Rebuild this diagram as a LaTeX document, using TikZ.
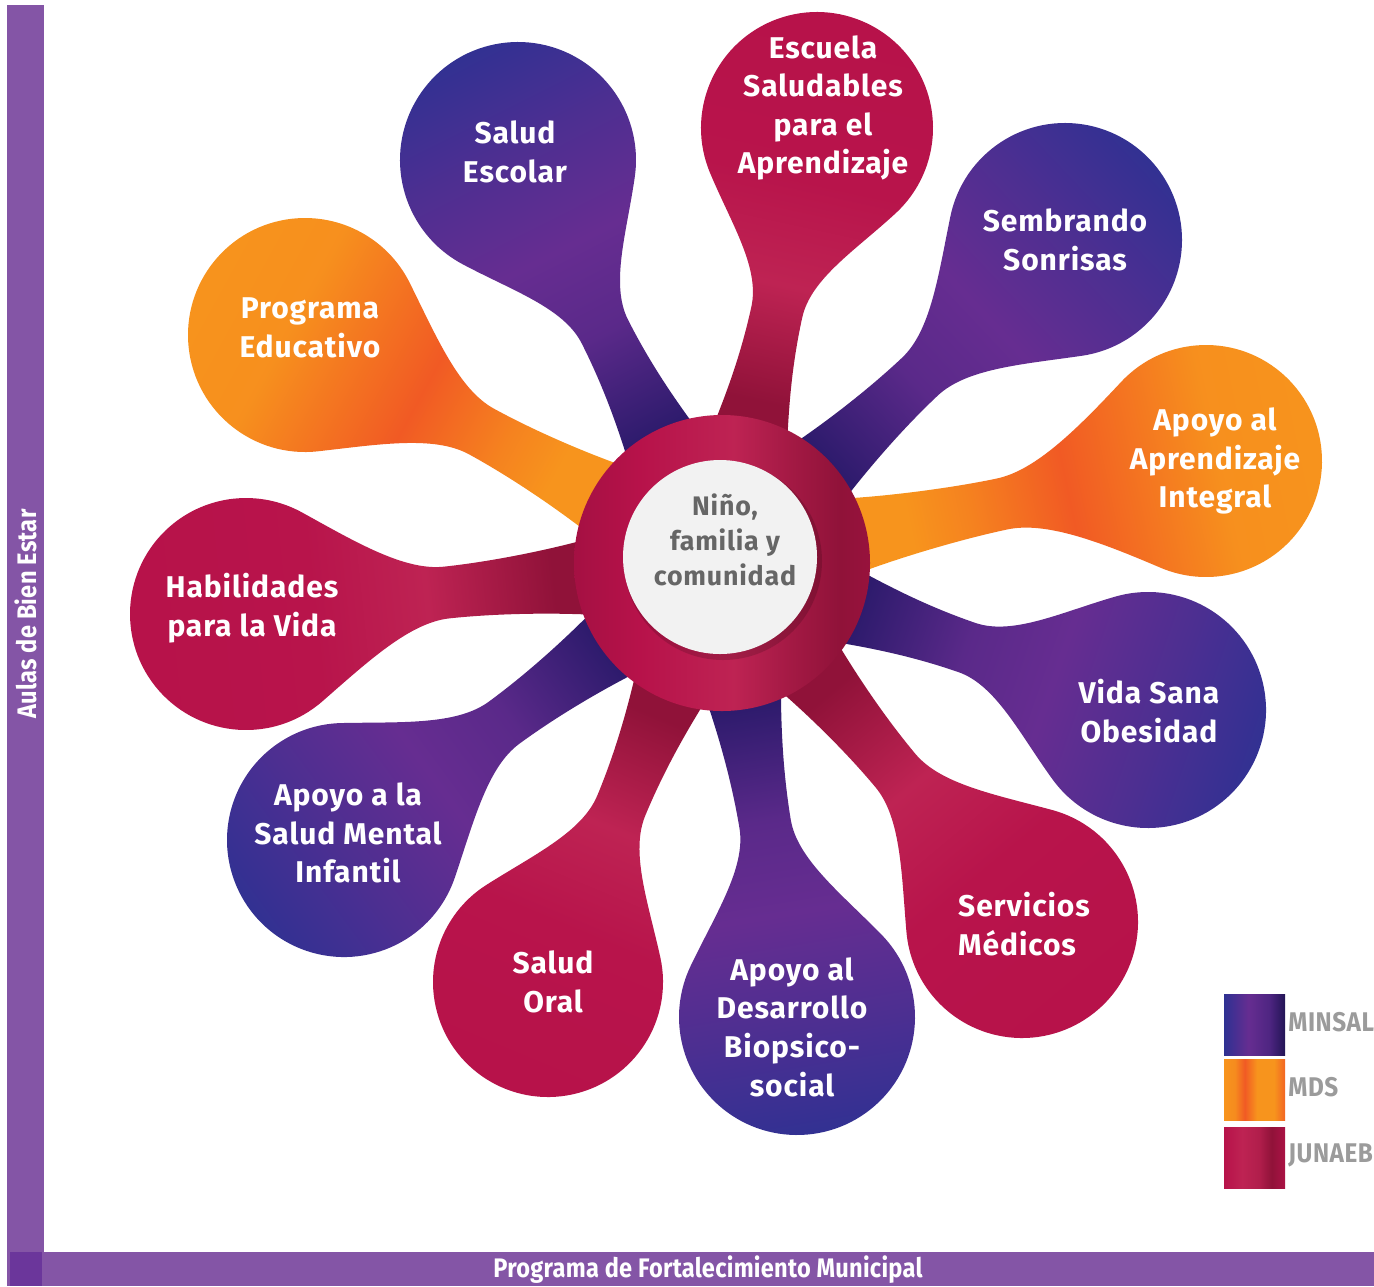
\documentclass[tikz,border=0pt]{standalone}
\usepackage{fontspec}
\setsansfont{Fira Sans}
\newfontfamily\condfont{Fira Sans}[FakeStretch=0.88,LetterSpace=1]
\newfontfamily\petalfont{Fira Sans}[LetterSpace=3]
\newfontfamily\legfont{Fira Sans}[FakeStretch=0.9,LetterSpace=2]
\definecolor{mBlue}{HTML}{2E3192}
\definecolor{mPurple}{HTML}{662D91}
\definecolor{mDark}{HTML}{2B1A6B}
\definecolor{oOrange}{HTML}{F7941D}
\definecolor{oRed}{HTML}{F15A24}
\definecolor{jRed}{HTML}{B7124A}
\definecolor{jLight}{HTML}{BE2353}
\definecolor{jDark}{HTML}{901239}
\definecolor{barPurple}{HTML}{8455A6}
\definecolor{barDark}{HTML}{6B369B}
\definecolor{legendGray}{HTML}{9B9B9B}
\definecolor{centerGray}{HTML}{666666}
\definecolor{centerFill}{HTML}{F2F2F2}
\pgfdeclarehorizontalshading{shMinsal}{100bp}{color(0bp)=(mBlue); color(25bp)=(mBlue); color(38bp)=(mBlue!45!mPurple); color(50bp)=(mPurple); color(60bp)=(mPurple!80!mDark); color(73bp)=(mDark); color(100bp)=(mDark)}
\pgfdeclarehorizontalshading{shMds}{100bp}{color(0bp)=(oOrange); color(25bp)=(oOrange); color(37bp)=(oOrange!92!oRed); color(52bp)=(oRed); color(62bp)=(oOrange!70!oRed); color(68bp)=(oOrange); color(100bp)=(oOrange)}
\pgfdeclarehorizontalshading{shJunaeb}{100bp}{color(0bp)=(jRed); color(25bp)=(jRed); color(45bp)=(jRed!90!jLight); color(57bp)=(jLight); color(70bp)=(jDark); color(100bp)=(jDark)}
\pgfdeclarehorizontalshading{shHub}{100bp}{color(0bp)=(jRed); color(25bp)=(jRed!90!black); color(36bp)=(jRed); color(52bp)=(jLight); color(62bp)=(jDark!60!jLight); color(70bp)=(jDark); color(75bp)=(jDark!80!jRed); color(100bp)=(jDark!80!jRed)}
\pgfdeclarehorizontalshading{shLegM}{100bp}{color(0bp)=(mBlue); color(25bp)=(mBlue); color(45bp)=(mPurple); color(62bp)=(mPurple!60!mDark); color(75bp)=(mDark!80!black); color(100bp)=(mDark!80!black)}
\pgfdeclarehorizontalshading{shLegO}{100bp}{color(0bp)=(oOrange); color(25bp)=(oOrange); color(34bp)=(oOrange!85!oRed); color(42bp)=(oRed); color(52bp)=(oOrange); color(66bp)=(oOrange); color(75bp)=(oRed!80!oOrange); color(100bp)=(oRed!80!oOrange)}
\pgfdeclarehorizontalshading{shLegJ}{100bp}{color(0bp)=(jRed); color(25bp)=(jRed); color(40bp)=(jLight); color(54bp)=(jLight!70!jDark); color(64bp)=(jDark); color(75bp)=(jRed!70!jDark); color(100bp)=(jRed!70!jDark)}
\newcommand\petal[4]{%
  \pgfmathsetmacro\pdx{722-#1}%
  \pgfmathsetmacro\pdy{563-#2}%
  \pgfmathsetmacro\pd{veclen(\pdx,\pdy)}%
  \pgfmathsetmacro\pang{atan2(-\pdy,\pdx)}%
  \pgfmathsetmacro\pr{#3}%
  \pgfmathsetmacro\pxw{\pr+0.4*(\pd-148-\pr)}%
  \pgfmathsetmacro\pxe{\pd-120}%
  \pgfmathsetmacro\ppx{0.5736*\pr}%
  \pgfmathsetmacro\ppy{0.8192*\pr}%
  \pgfmathsetmacro\pk{0.45*(\pxw-\ppx)}%
  \begin{scope}[transform canvas={shift={(#1,#2)},rotate=\pang}]
    \shade[shading=#4] (\pxe,40) .. controls ({\pxe-45},32) and ({\pxw+50},26) .. (\pxw,26)
      .. controls ({\pxw-40},26) and ({\ppx+0.8192*\pk},{\ppy-0.5736*\pk}) .. (\ppx,\ppy)
      arc[start angle=55,end angle=305,radius=\pr]
      .. controls ({\ppx+0.8192*\pk},{-\ppy+0.5736*\pk}) and ({\pxw-40},-26) .. (\pxw,-26)
      .. controls ({\pxw+50},-26) and ({\pxe-45},-32) .. (\pxe,-40) -- cycle;
  \end{scope}}
\tikzset{
  ptext/.style={text=white, font=\petalfont\bfseries\fontsize{15}{19.3}\selectfont, align=center, inner sep=0pt},
  ctext/.style={text=centerGray, font=\petalfont\bfseries\fontsize{13.4}{17.5}\selectfont, align=center, inner sep=0pt},
  bartext/.style={text=white, font=\condfont\bfseries\fontsize{13.4}{13.4}\selectfont, inner sep=0pt},
  legtext/.style={text=legendGray, font=\legfont\bfseries\fontsize{13.5}{13.5}\selectfont, inner sep=0pt, anchor=west}
}
\begin{document}
\begin{tikzpicture}[x=0.5pt,y=-0.5pt]
\useasboundingbox (0,0) rectangle (1374,1286);
\fill[white] (0,0) rectangle (1374,1286);
% frame bars
\fill[barPurple] (7,5) rectangle (44,1252);
\fill[barPurple] (7,1252) rectangle (1374,1286);
\fill[barDark] (10,1252) rectangle (42,1286);
\node[bartext, rotate=90] (aulas) at (26,614) {Aulas de Bien Estar};
\node[bartext] (prog) at (708,1270) {Programa de Fortalecimiento Municipal};
% petals
\petal{518}{160}{118}{shMinsal}
\petal{817}{128}{116}{shJunaeb}
\petal{1065}{240}{117}{shMinsal}
\petal{1206}{461}{116}{shMds}
\petal{1148}{710}{118}{shMinsal}
\petal{1022}{922}{116}{shJunaeb}
\petal{797}{1017}{118}{shMinsal}
\petal{548}{982}{115}{shJunaeb}
\petal{344}{840}{117}{shMinsal}
\petal{246}{614}{116}{shJunaeb}
\petal{305}{335}{117}{shMds}
% hub
\shade[shading=shHub] (722,563) circle[radius=148];
\fill[black, opacity=0.15] (723,561) circle[radius=99];
\fill[centerFill] (720,557) circle[radius=97];
\node[ctext] (hub) at (725,540) {Niño,\\familia y\\comunidad};
% labels
\node[ptext] (saludescolar) at (515,152) {Salud\\Escolar};
\node[ptext] (escuela) at (823,108) {Escuela\\Saludables\\para el\\Aprendizaje};
\node[ptext] (sembrando) at (1065,240) {Sembrando\\Sonrisas};
\node[ptext] (apoyoint) at (1215,461) {Apoyo al\\Aprendizaje\\Integral};
\node[ptext] (vidasana) at (1149,711) {Vida Sana\\Obesidad};
\node[ptext, align=left] (servicios) at (1024,924) {Servicios\\Médicos};
\node[ptext] (desarrollo) at (792,1027) {Apoyo al\\Desarrollo\\Biopsico-\\social};
\node[ptext] (saludoral) at (553,982) {Salud\\Oral};
\node[ptext] (mental) at (348,833) {Apoyo a la\\Salud Mental\\Infantil};
\node[ptext] (habilidades) at (252,608) {Habilidades\\para la Vida};
\node[ptext] (programa) at (310,328) {Programa\\Educativo};
% legend
\shade[shading=shLegM] (1224,994) rectangle (1285,1055);
\shade[shading=shLegO] (1224,1059) rectangle (1285,1120);
\shade[shading=shLegJ] (1224,1127) rectangle (1285,1188);
\node[legtext] (minsal) at (1288,1022) {MINSAL};
\node[legtext] (mds) at (1288,1087) {MDS};
\node[legtext] (junaeb) at (1288,1155) {JUNAEB};
\end{tikzpicture}
\end{document}
